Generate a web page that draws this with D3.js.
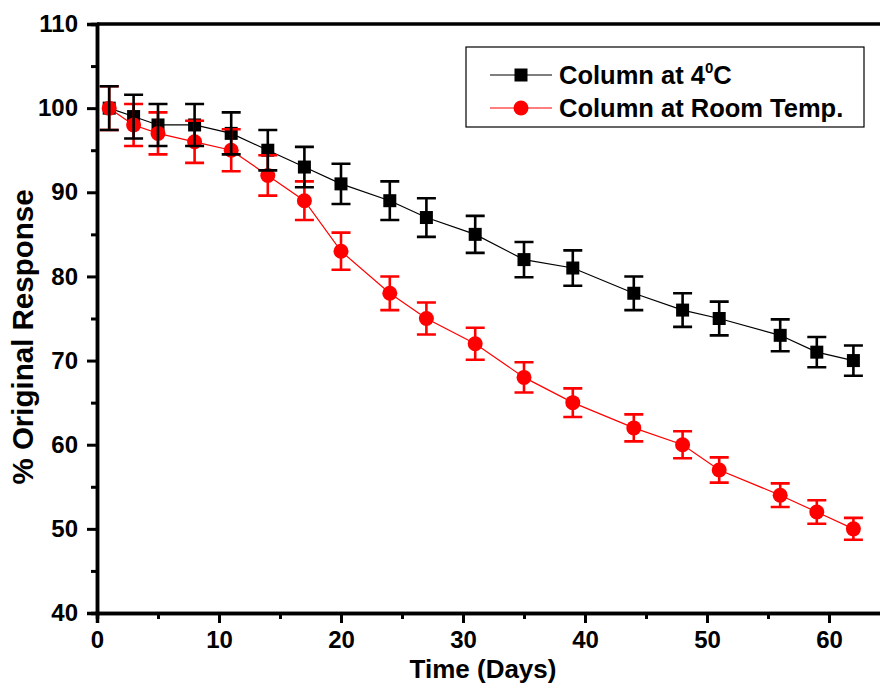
<!DOCTYPE html>
<html>
<head>
<meta charset="utf-8">
<script src="https://cdn.jsdelivr.net/npm/d3@7"></script>
<style>
  html, body { margin: 0; padding: 0; background: #fff; }
  svg { display: block; font-family: "Liberation Sans", Arial, sans-serif; font-weight: bold; }
</style>
</head>
<body>
<svg id="chart" width="880" height="685"></svg>
<script>
// Sampling days
const days = [1, 3, 5, 8, 11, 14, 17, 20, 24, 27, 31, 35, 39, 44, 48, 51, 56, 59, 62];

// Column stored at 4 °C
const cold = [100, 99, 98, 98, 97, 95, 93, 91, 89, 87, 85, 82, 81, 78, 76, 75, 73, 71, 70];
const coldErr = [2.6, 2.6, 2.5, 2.5, 2.5, 2.4, 2.4, 2.4, 2.3, 2.3, 2.2, 2.1, 2.1, 2.0, 2.0, 2.0, 1.9, 1.8, 1.8];

// Column stored at room temperature
const room = [100, 98, 97, 96, 95, 92, 89, 83, 78, 75, 72, 68, 65, 62, 60, 57, 54, 52, 50];
const roomErr = [2.6, 2.5, 2.5, 2.5, 2.5, 2.4, 2.3, 2.2, 2.0, 1.9, 1.9, 1.8, 1.7, 1.6, 1.6, 1.5, 1.4, 1.4, 1.3];

const xTicks = [0, 10, 20, 30, 40, 50, 60];
const yTicks = [40, 50, 60, 70, 80, 90, 100, 110];

const FONT = "Liberation Sans, Arial, sans-serif";
const svg = d3.select("#chart");

const x = d3.scaleLinear().domain([0, 65]).range([97, 890]);
const y = d3.scaleLinear().domain([40, 110]).range([613, 24]);

// Frame (top and right edges)
svg.append("path")
  .attr("d", `M${x(0)},${y(110)}H${x(65)}V${y(40)}`)
  .attr("fill", "none").attr("stroke", "#000").attr("stroke-width", 3.5);

function styleAxis(g) {
  g.selectAll(".domain").attr("stroke-width", 3.5);
  g.selectAll(".tick line").attr("stroke-width", 3);
  g.selectAll(".tick text").attr("font-size", 24).attr("font-weight", "bold")
    .attr("font-family", FONT).attr("fill", "#000");
}

// Bottom axis: major and minor ticks pointing outward
const xAxis = svg.append("g").attr("transform", `translate(0,${y(40)})`);
xAxis.call(d3.axisBottom(x).tickValues(d3.range(5, 65, 10)).tickSize(6).tickFormat(""));
xAxis.append("g").call(d3.axisBottom(x).tickValues(xTicks).tickSize(10).tickPadding(8));
styleAxis(xAxis);

// Left axis
const yAxis = svg.append("g").attr("transform", `translate(${x(0)},0)`);
yAxis.call(d3.axisLeft(y).tickValues(d3.range(45, 110, 10)).tickSize(6).tickFormat(""));
yAxis.append("g").call(d3.axisLeft(y).tickValues(yTicks).tickSize(10).tickPadding(9));
styleAxis(yAxis);

// Axis titles
svg.append("text")
  .attr("x", 483).attr("y", 678)
  .attr("text-anchor", "middle").attr("font-size", 26)
  .text("Time (Days)");
svg.append("text")
  .attr("transform", "translate(33,337) rotate(-90)")
  .attr("text-anchor", "middle").attr("font-size", 29.5)
  .text("% Original Response");

const series = [
  { name: "cold", vals: cold, err: coldErr, color: "#000000", shape: "square" },
  { name: "room", vals: room, err: roomErr, color: "#ff0000", shape: "circle" }
];

const line = d3.line().x(d => x(d[0])).y(d => y(d[1]));

// Connecting lines
series.forEach(s => {
  svg.append("path")
    .datum(days.map((d, i) => [d, s.vals[i]]))
    .attr("d", line)
    .attr("fill", "none").attr("stroke", s.color).attr("stroke-width", 1.2);
});

// Markers
const markers = svg.append("g");
series.forEach(s => {
  const g = markers.append("g");
  if (s.shape === "square") {
    g.selectAll("rect").data(days).join("rect")
      .attr("x", d => x(d) - 6.5).attr("y", (d, i) => y(s.vals[i]) - 6.5)
      .attr("width", 13).attr("height", 13).attr("fill", s.color);
  } else {
    g.selectAll("circle").data(days).join("circle")
      .attr("cx", d => x(d)).attr("cy", (d, i) => y(s.vals[i]))
      .attr("r", 7.5).attr("fill", s.color);
  }
});

// Error bars (room temperature first, 4 °C on top)
[series[1], series[0]].forEach(s => {
  const g = svg.append("g").attr("stroke", s.color).attr("stroke-width", 2.6).attr("fill", "none");
  days.forEach((d, i) => {
    const cx = x(d), top = y(s.vals[i] + s.err[i]), bot = y(s.vals[i] - s.err[i]);
    g.append("path").attr("d",
      `M${cx},${top}V${bot}M${cx - 9.5},${top}H${cx + 9.5}M${cx - 9.5},${bot}H${cx + 9.5}`);
  });
});

// Legend
const legend = svg.append("g");
legend.append("rect")
  .attr("x", 466).attr("y", 47).attr("width", 398).attr("height", 80)
  .attr("fill", "#fff").attr("stroke", "#000").attr("stroke-width", 1.2);
const legendItems = [
  { s: series[0], y: 75 },
  { s: series[1], y: 108 }
];
legendItems.forEach(item => {
  const s = item.s;
  legend.append("line").attr("x1", 490).attr("x2", 552).attr("y1", item.y).attr("y2", item.y)
    .attr("stroke", s.color).attr("stroke-width", 1.2);
  if (s.shape === "square") {
    legend.append("rect").attr("x", 521 - 6.5).attr("y", item.y - 6.5)
      .attr("width", 13).attr("height", 13).attr("fill", s.color);
  } else {
    legend.append("circle").attr("cx", 521).attr("cy", item.y).attr("r", 7.5).attr("fill", s.color);
  }
});
const t1 = legend.append("text").attr("x", 559).attr("y", 84).attr("font-size", 25.5);
t1.append("tspan").text("Column at 4");
t1.append("tspan").attr("font-size", 15).attr("dy", -11).text("0");
t1.append("tspan").attr("dy", 11).text("C");
legend.append("text").attr("x", 559).attr("y", 117).attr("font-size", 25.5)
  .text("Column at Room Temp.");
</script>
</body>
</html>
